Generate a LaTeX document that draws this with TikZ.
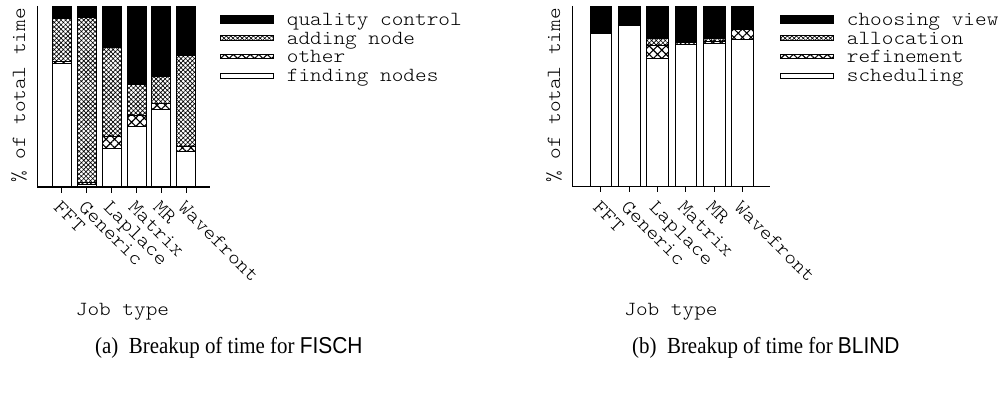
\documentclass[tikz,border=0pt]{standalone}
\usepackage{fontspec}
\setmainfont{Liberation Serif}
\setsansfont{Liberation Sans}
\newfontfamily\plotfont[FakeStretch=1.11]{Latin Modern Mono Light}
\usetikzlibrary{patterns.meta}

\tikzset{
  ptxt/.style={font=\plotfont\fontsize{20}{21}\selectfont, inner sep=0pt},
  seg/.style={draw=black, line width=0.9pt},
  qc/.style={seg, fill=black},
  dense/.style={seg, pattern={Hatch[angle=45,distance=3.2pt,line width=0.65pt]}},
  coarse/.style={seg, pattern={Hatch[angle=45,distance=6pt,line width=1.1pt]}},
  blank/.style={seg, fill=white},
  axisline/.style={line width=1.3pt},
  tickmark/.style={line width=0.9pt},
  tickl/.style={ptxt, rotate=-45, anchor=base west},
  capt/.style={font=\fontsize{23}{26}\selectfont, inner sep=0pt, anchor=base west, xscale=0.91},
}

% bar: x, width, bottom, white top, coarse top, dense top, top
\newcommand\stackbar[7]{%
  \draw[blank]  (#1,#3) rectangle (#1+#2,#4);
  \draw[coarse] (#1,#4) rectangle (#1+#2,#5);
  \draw[dense]  (#1,#5) rectangle (#1+#2,#6);
  \draw[qc]     (#1,#6) rectangle (#1+#2,#7);
}

\begin{document}
\begin{tikzpicture}[x=1pt,y=-1pt]
\useasboundingbox (0,0) rectangle (1003,398);

%% ---------------- left plot (FISCH) ----------------
\stackbar{52.3}{19}{187}{63}{61.5}{18.3}{6}
\stackbar{77.3}{19}{187}{184}{182.5}{17.3}{6}
\stackbar{102.3}{19}{187}{148.3}{136}{47.3}{6}
\stackbar{127}{19}{187}{126}{115}{84.3}{6}
\stackbar{151.7}{19}{187}{109.3}{103.3}{76}{6}
\stackbar{176.7}{19}{187}{151}{146}{55}{6}

\draw[axisline] (37.3,6) -- (37.3,187) -- (210,187);
\foreach \x in {61.8,86.8,111.8,136.5,161.2,186.2}
  \draw[tickmark] (\x,187) -- (\x,192.5);

\node[tickl] (la1) at (61.8-9,208.5) {FFT};
\node[tickl] (la2) at (86.8-9,208.5) {Generic};
\node[tickl] (la3) at (111.8-9,208.5) {Laplace};
\node[tickl] (la4) at (136.5-9,208.5) {Matrix};
\node[tickl] (la5) at (161.2-9,208.5) {MR};
\node[tickl] (la6) at (186.2-9,208.5) {Wavefront};

\node[ptxt, rotate=90, anchor=base] (ylabA) at (25,95.5) {\% of total time};
\node[ptxt, anchor=base] (xlabA) at (122.5,315.5) {Job type};

\draw[qc]     (220,15)   rectangle (273,23.3);
\draw[dense]  (220,35.6) rectangle (273,40.2);
\draw[coarse] (220,54.2) rectangle (273,58.8);
\draw[blank]  (220,73.4) rectangle (273,78);
\node[ptxt, anchor=base west] (kA1) at (286.7,25.3) {quality control};
\node[ptxt, anchor=base west] (kA2) at (286.7,44.1) {adding node};
\node[ptxt, anchor=base west] (kA3) at (286.7,62.9) {other};
\node[ptxt, anchor=base west] (kA4) at (286.7,81.7) {finding nodes};

\node[capt] (capA) at (95,353) {(a)\ \ Breakup of time for \textsf{FISCH}};

%% ---------------- right plot (BLIND) ----------------
\stackbar{590}{21.7}{186.7}{33}{33}{33}{6}
\stackbar{618.3}{21.7}{186.7}{25.7}{25.7}{25.7}{6}
\stackbar{646.7}{21.7}{186.7}{58.7}{45}{38.7}{6}
\stackbar{675}{21.7}{186.7}{44.3}{42.8}{41}{6}
\stackbar{703.3}{21.7}{186.7}{43.3}{41}{38.7}{6}
\stackbar{731.7}{21.7}{186.7}{39.3}{29}{28}{6}

\draw[axisline] (572.3,6) -- (572.3,186.7) -- (770,186.7);
\foreach \x in {600.85,629.15,657.55,685.85,714.15,742.55}
  \draw[tickmark] (\x,186.7) -- (\x,192.2);

\node[tickl] (lb1) at (600.85-9,208.5) {FFT};
\node[tickl] (lb2) at (629.15-9,208.5) {Generic};
\node[tickl] (lb3) at (657.55-9,208.5) {Laplace};
\node[tickl] (lb4) at (685.85-9,208.5) {Matrix};
\node[tickl] (lb5) at (714.15-9,208.5) {MR};
\node[tickl] (lb6) at (742.55-9,208.5) {Wavefront};

\node[ptxt, rotate=90, anchor=base] (ylabB) at (560,95.5) {\% of total time};
\node[ptxt, anchor=base] (xlabB) at (671,315.5) {Job type};

\draw[qc]     (780,15)   rectangle (833,23.3);
\draw[dense]  (780,35.6) rectangle (833,40.2);
\draw[coarse] (780,54.2) rectangle (833,58.8);
\draw[blank]  (780,73.4) rectangle (833,78);
\node[ptxt, anchor=base west] (kB1) at (846.7,25.3) {choosing view};
\node[ptxt, anchor=base west] (kB2) at (846.7,44.1) {allocation};
\node[ptxt, anchor=base west] (kB3) at (846.7,62.9) {refinement};
\node[ptxt, anchor=base west] (kB4) at (846.7,81.7) {scheduling};

\node[capt] (capB) at (632,353) {(b)\ \ Breakup of time for \textsf{BLIND}};
\end{tikzpicture}
\end{document}
